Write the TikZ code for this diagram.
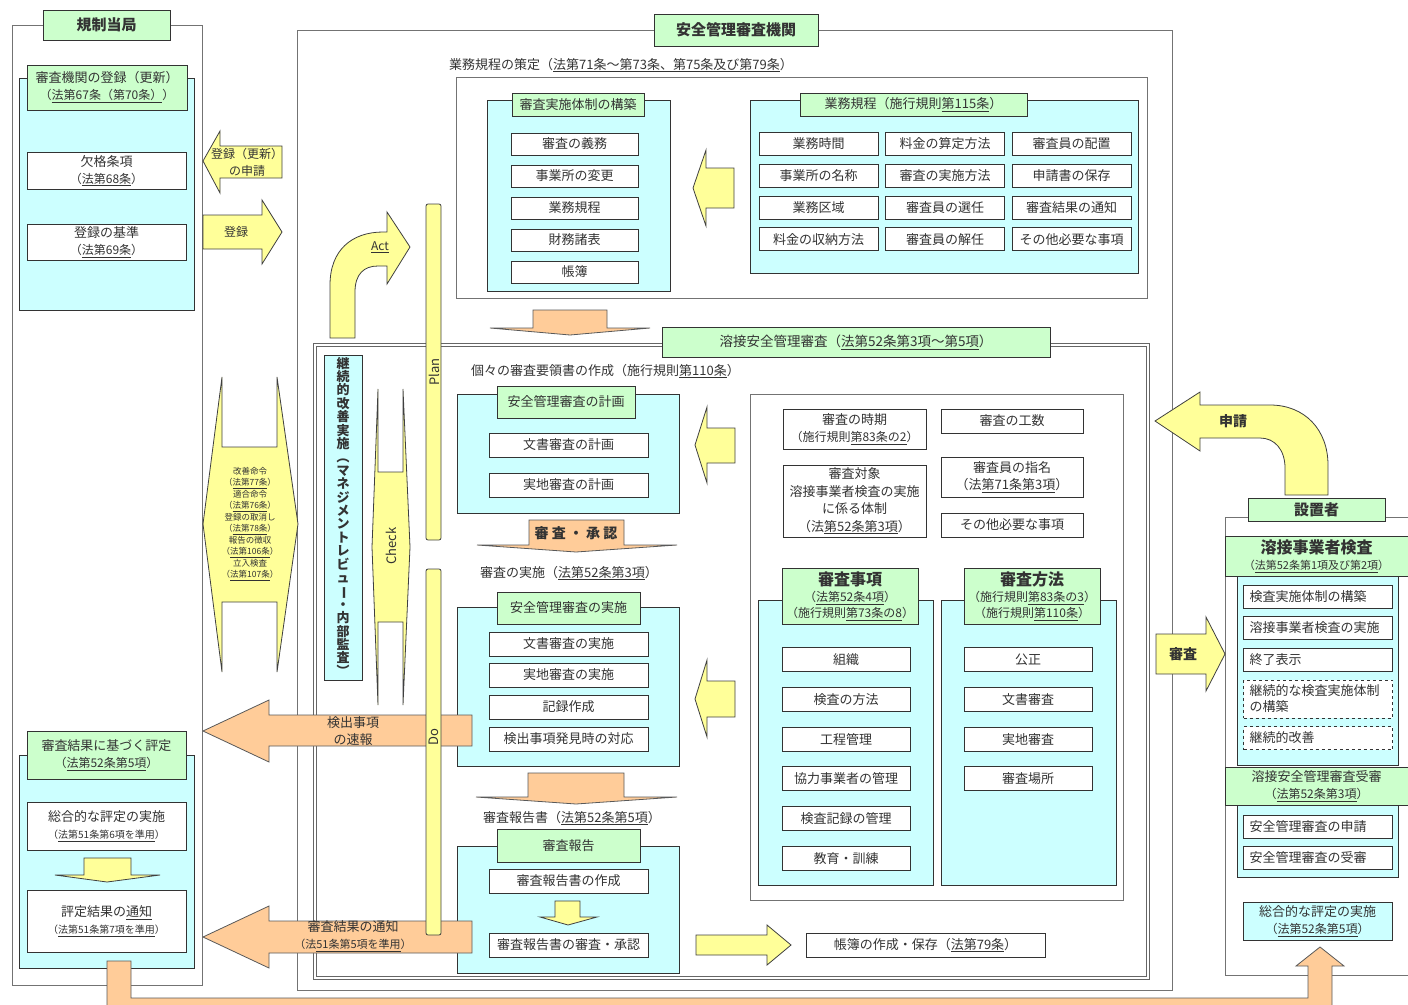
\documentclass[tikz,border=0pt]{standalone}
\usepackage{fontspec}
\setmainfont{Noto Sans CJK JP}
\definecolor{hdgreen}{RGB}{204,255,204}
\definecolor{bgcyan}{RGB}{204,255,255}
\definecolor{arwyellow}{RGB}{255,255,153}
\definecolor{arworange}{RGB}{255,204,153}
\newcommand{\lref}[1]{\underline{#1}}
\newcommand{\vrot}[1]{\rotatebox[origin=c]{-90}{#1}}
\newcommand{\fs}[2]{\fontsize{#1}{#2}\selectfont}

\begin{document}
\begin{tikzpicture}[x=1pt, y=-1pt,
    every node/.style={text=black!80, inner sep=0pt},
    box/.style={draw=black!80, fill=white, line width=0.9pt, font=\fs{13}{17}, align=center},
    head/.style={box, fill=hdgreen},
    title/.style={head, font=\fs{15}{18}\bfseries},
    panel/.style={draw=black!80, fill=bgcyan, line width=0.9pt},
    frame/.style={draw=black!55, line width=1pt},
    yarrow/.style={draw=black!75, fill=arwyellow, line width=0.8pt},
    oarrow/.style={draw=black!65, fill=arworange, line width=0.8pt},
    lbl/.style={font=\fs{13}{17}, align=center},
    taisei/.style={box, minimum width=127, minimum height=22},
    kitei/.style={box, minimum width=119, minimum height=23},
    keikaku/.style={box, minimum width=159, minimum height=24},
    jiko/.style={box, minimum width=128, minimum height=24},
    ritem/.style={box, text width=137, align=left, inner xsep=6, minimum height=23},
]
\useasboundingbox (0,0) rectangle (1408,1004);

% outer frames
\draw[frame] (12,25) rectangle (202,985);
\draw[frame] (297,30) rectangle (1172,990);
\draw[frame] (1408,517) -- (1225,517) -- (1225,975) -- (1408,975);
\node[title, minimum width=127, minimum height=30] (kisei) at (106.5,25) {規制当局};
\node[title, minimum width=164, minimum height=32] (kikan) at (736,30) {安全管理審査機関};

% regulator: registration
\draw[panel] (19,78) rectangle (194,310);
\node[head, minimum width=160, minimum height=45] (toroku) at (107,87.5)
    {審査機関の登録（更新）\\{\fs{12}{17}（\lref{法第67条（第70条）}）}};
\node[box, minimum width=159, minimum height=37] (kekkaku) at (106.5,170.5)
    {欠格条項\\{\fs{12}{17}（\lref{法第68条}）}};
\node[box, minimum width=159, minimum height=36] (kijun) at (106.5,242)
    {登録の基準\\{\fs{12}{17}（\lref{法第69条}）}};

\draw[yarrow] (203,161) -- (220,131) -- (220,146) -- (282,146) -- (282,178) -- (220,178) -- (220,193) -- cycle;
\node[lbl, font=\fs{12}{17}] (shinseilbl) at (247,162) {登録（更新）\\の申請};
\draw[yarrow] (203,215) -- (262,215) -- (262,200) -- (282,232) -- (262,264) -- (262,249) -- (203,249) -- cycle;
\node[lbl, font=\fs{12}{17}] (torokulbl) at (236,232) {登録};

% orders (double arrow)
\draw[yarrow] (203,524) -- (222,377) -- (222,447) -- (277,447) -- (277,377) -- (298,524)
    -- (277,672) -- (277,602) -- (222,602) -- (222,672) -- cycle;
\node[lbl, font=\fs{8.5}{11.5}] (meirei) at (250,524)
    {改善命令\\（\lref{法第77条}）\\適合命令\\（\lref{法第76条}）\\登録の取消し\\（\lref{法第78条}）\\報告の徴収\\（\lref{法第106条}）\\立入検査\\（\lref{法第107条}）};

% regulator: evaluation
\draw[panel] (19,755) rectangle (194,968);
\node[head, minimum width=159, minimum height=48] (hyotei) at (106.5,755)
    {審査結果に基づく評定\\{\fs{12}{17}（\lref{法第52条第5項}）}};
\node[box, minimum width=159, minimum height=48] (sogo) at (106.5,826)
    {総合的な評定の実施\\{\fs{10}{17}（\lref{法第51条第6項を準用}）}};
\draw[yarrow] (84,858) -- (131,858) -- (131,875) -- (160,875) -- (107,882) -- (55,875) -- (84,875) -- cycle;
\node[box, minimum width=159, minimum height=62] (kekka) at (106.5,921)
    {評定結果の\lref{通知}\\{\fs{10}{17}（\lref{法第51条第7項を準用}）}};

% business rules
\node[lbl, anchor=west] (sakutei) at (449,65) {業務規程の策定（\lref{法第71条～第73条、第75条及び第79条}）};
\draw[frame] (456,77) rectangle (1147,298);
\draw[panel] (487,100) rectangle (670,291);
\node[head, minimum width=132, minimum height=23] (taiseihd) at (578,104.5) {審査実施体制の構築};
\foreach \txt [count=\i] in {審査の義務,事業所の変更,業務規程,財務諸表,帳簿}
    \node[taisei] (taisei\i) at (574.5,{112+32*\i}) {\txt};
\draw[yarrow] (693,188) -- (706,150) -- (706,168) -- (734,168) -- (734,208) -- (706,208) -- (706,226) -- cycle;
\draw[panel] (750,100) rectangle (1138,273);
\node[head, minimum width=227, minimum height=23] (kiteihd) at (913.5,104.5) {業務規程（施行規則\lref{第115条}）};
\foreach \txt [count=\i from 0] in {業務時間,料金の算定方法,審査員の配置,
        事業所の名称,審査の実施方法,申請書の保存,
        業務区域,審査員の選任,審査結果の通知,
        料金の収納方法,審査員の解任,その他必要な事項} {
    \pgfmathtruncatemacro{\r}{div(\i,3)}
    \pgfmathtruncatemacro{\c}{mod(\i,3)}
    \node[kitei] (kitei\i) at ({818.5+126.5*\c},{144+31.8*\r}) {\txt};
}
\draw[oarrow] (533,310) -- (607,310) -- (607,328) -- (650,328) -- (570,335) -- (490,328) -- (533,328) -- cycle;

% welding safety audit
\draw[draw=black!60, line width=0.8pt, double, double distance=2.5pt] (315,345) rectangle (1148,978);
\node[head, minimum width=388, minimum height=30, font=\fs{13.5}{17}] (yosetsu) at (856,342)
    {溶接安全管理審査（\lref{法第52条第3項～第5項}）};

% PDCA
\draw[yarrow] (330,338) -- (330,285) .. controls (330,250) and (352,232) .. (383,232) -- (387,232)
    -- (387,212) -- (410,247) -- (387,284) -- (387,266) -- (378,266)
    .. controls (364,266) and (355,274) .. (355,292) -- (355,338) -- cycle;
\node[font=\fs{12}{12}] (act) at (380,247) {\underline{Act}};
\node[panel, minimum width=38, minimum height=325, font=\fs{13}{13.4}\bfseries, align=center] (kaizen) at (343,517.5)
    {継\\続\\的\\改\\善\\実\\施\\\vrot{（}\\マ\\ネ\\ジ\\メ\\ン\\ト\\レ\\ビ\\ュ\\\vrot{ー}\\・\\内\\部\\監\\査\\\vrot{）}};
\draw[yarrow] (372,547) -- (378,389) -- (378,472) -- (403,472) -- (403,389) -- (410,547)
    -- (403,705) -- (403,622) -- (378,622) -- (378,705) -- cycle;
\node[rotate=90, font=\fs{13}{13}] (check) at (391,546) {Check};

% planning
\node[lbl, anchor=west] (yoryo) at (471,371) {個々の審査要領書の作成（施行規則\lref{第110条}）};
\draw[panel] (457,394) rectangle (679,513);
\node[head, minimum width=138, minimum height=32] (keikakuhd) at (566,402) {安全管理審査の計画};
\node[keikaku] (bunsho) at (568.5,445) {文書審査の計画};
\node[keikaku] (jicchi) at (568.5,485) {実地審査の計画};
\draw[yarrow] (695,445) -- (707,407) -- (707,428) -- (735,428) -- (735,463) -- (707,463) -- (707,483) -- cycle;
\draw[oarrow] (529,520) -- (624,520) -- (624,545) -- (677,545) -- (576,552) -- (477,545) -- (529,545) -- cycle;
\node[font=\fs{14}{14}\bfseries] (shonin) at (576,533) {審 査 ・ 承 認};

% execution
\node[lbl, anchor=west] (jisshi) at (480,573) {審査の実施（\lref{法第52条第3項}）};
\draw[panel] (457,607) rectangle (679,766);
\node[head, minimum width=143, minimum height=32] (jisshihd) at (568.5,608) {安全管理審査の実施};
\node[keikaku] (bunjis) at (568.5,644) {文書審査の実施};
\node[keikaku] (jitjis) at (568.5,675) {実地審査の実施};
\node[keikaku] (kiroku) at (568.5,707) {記録作成};
\node[keikaku] (kenshutsu) at (568.5,739) {検出事項発見時の対応};
\draw[yarrow] (695,699) -- (707,660) -- (707,681) -- (735,681) -- (735,717) -- (707,717) -- (707,737) -- cycle;
\draw[oarrow] (528,773) -- (624,773) -- (624,797) -- (677,797) -- (576,804) -- (476,797) -- (528,797) -- cycle;

% report
\node[lbl, anchor=west] (hokokusho) at (483,818) {審査報告書（\lref{法第52条第5項}）};
\draw[panel] (457,846) rectangle (679,973);
\node[head, minimum width=143, minimum height=33] (hokokuhd) at (568.5,845.5) {審査報告};
\node[keikaku] (sakusei) at (568.5,881) {審査報告書の作成};
\draw[yarrow] (555,901) -- (580,901) -- (580,917) -- (597,917) -- (568,925) -- (540,917) -- (555,917) -- cycle;
\node[keikaku] (shoninbox) at (568.5,945) {審査報告書の審査・承認};

% audit subjects
\draw[frame] (750,394) rectangle (1123,900);
\node[box, minimum width=143, minimum height=40] (jiki) at (854.5,429)
    {審査の時期\\{\fs{12}{17}（施行規則\lref{第83条の2}）}};
\node[box, minimum width=142, minimum height=24] (kosu) at (1012,421) {審査の工数};
\node[box, minimum width=143, minimum height=72, font=\fs{13}{17.5}] (taisho) at (854.5,501)
    {審査対象\\溶接事業者検査の実施\\に係る体制\\（法\lref{第52条第3項}）};
\node[box, minimum width=142, minimum height=40] (shimei) at (1012,477)
    {審査員の指名\\（法\lref{第71条第3項}）};
\node[box, minimum width=142, minimum height=24] (sonota) at (1012,525) {その他必要な事項};

\draw[panel] (758,600) rectangle (933,885);
\node[head, minimum width=136, minimum height=56, font=\fs{12}{16}] (jikohd) at (850,596)
    {{\fs{16}{18}\bfseries 審査事項}\\（\lref{法第52条4項}）\\（施行規則\lref{第73条の8}）};
\foreach \txt [count=\i] in {組織,検査の方法,工程管理,協力事業者の管理,検査記録の管理,教育・訓練}
    \node[jiko] (jiko\i) at (846,{619.7+39.8*\i}) {\txt};
\draw[panel] (941,600) rectangle (1116,885);
\node[head, minimum width=136, minimum height=56, font=\fs{12}{16}] (hohohd) at (1032,596)
    {{\fs{16}{18}\bfseries 審査方法}\\（施行規則\lref{第83条の3}）\\（施行規則\lref{第110条}）};
\foreach \txt [count=\i] in {公正,文書審査,実地審査,審査場所}
    \node[jiko] (hoho\i) at (1028,{619.7+39.8*\i}) {\txt};

\draw[yarrow] (696,935) -- (767,935) -- (767,925) -- (791,945) -- (767,965) -- (767,955) -- (696,955) -- cycle;
\node[box, minimum width=239, minimum height=24] (chobo) at (925.5,945) {帳簿の作成・保存（\lref{法第79条}）};

% reports back to regulator
\draw[oarrow] (203,731) -- (269,700) -- (269,715) -- (472,715) -- (472,746) -- (269,746) -- (269,762) -- cycle;
\node[lbl] (sokuho) at (353,731) {検出事項\\の速報};
\draw[oarrow] (203,937) -- (269,906) -- (269,921) -- (472,921) -- (472,953) -- (269,953) -- (269,968) -- cycle;
\node[lbl] (tsuchi) at (353,936) {審査結果の通知\\{\fs{11}{17}（法\lref{51条第5項を準用}）}};

\draw[yarrow, rounded corners=2] (426,204) rectangle (441,540);
\node[rotate=90, font=\fs{13}{13}] (plan) at (434,372) {Plan};
\draw[yarrow, rounded corners=2] (426,569) rectangle (441,935);
\node[rotate=90, font=\fs{13}{13}] (do) at (434,737) {Do};

% installer
\draw[yarrow] (1155,421) -- (1200,392) -- (1200,405) -- (1270,405)
    .. controls (1305,405) and (1328,430) .. (1328,465) -- (1328,495) -- (1285,495) -- (1285,468)
    .. controls (1285,450) and (1275,438) .. (1260,438) -- (1200,438) -- (1200,451) -- cycle;
\node[font=\fs{14}{14}\bfseries] (shinsei) at (1233,421) {申請};
\draw[yarrow] (1156,634) -- (1206,634) -- (1206,617) -- (1225,654) -- (1206,691) -- (1206,674) -- (1156,674) -- cycle;
\node[font=\fs{14}{14}\bfseries] (shinsa) at (1183,654) {審査};

\node[title, minimum width=137, minimum height=23] (setchi) at (1316.5,509.5) {設置者};
\node[head, minimum width=183, minimum height=40, font=\fs{11}{16}] (kensahd) at (1316.5,556)
    {{\fs{16}{18}\bfseries 溶接事業者検査}\\（\lref{法第52条第1項及び第2項}）};
\draw[panel] (1237,576) rectangle (1398,765);
\node[ritem] (kensa1) at (1318,596.5) {検査実施体制の構築};
\node[ritem] (kensa2) at (1318,628) {溶接事業者検査の実施};
\node[ritem] (kensa3) at (1318,659.5) {終了表示};
\node[ritem, dashed, minimum height=38, font=\fs{13}{16}] (kensa4) at (1318,699) {継続的な検査実施体制\\の構築};
\node[ritem, dashed] (kensa5) at (1318,738) {継続的改善};
\node[head, minimum width=183, minimum height=38] (jushinhd) at (1316.5,786)
    {溶接安全管理審査受審\\{\fs{12}{17}（\lref{法第52条第3項}）}};
\draw[panel] (1237,805) rectangle (1398,877);
\node[ritem] (jushin1) at (1318,826.5) {安全管理審査の申請};
\node[ritem] (jushin2) at (1318,857.5) {安全管理審査の受審};
\node[box, fill=bgcyan, minimum width=149, minimum height=38] (sogo2) at (1317.5,921)
    {総合的な評定の実施\\{\fs{12}{17}（\lref{法第52条第5項}）}};

% evaluation path along the bottom
\begin{scope}
    \clip (0,0) rectangle (1408,1004);
    \draw[oarrow] (107,961) -- (131,961) -- (131,998) -- (1308,998) -- (1308,966) -- (1296,966)
        -- (1320,947) -- (1344,966) -- (1332,966) -- (1332,1012) -- (107,1012) -- cycle;
\end{scope}
\end{tikzpicture}
\end{document}
